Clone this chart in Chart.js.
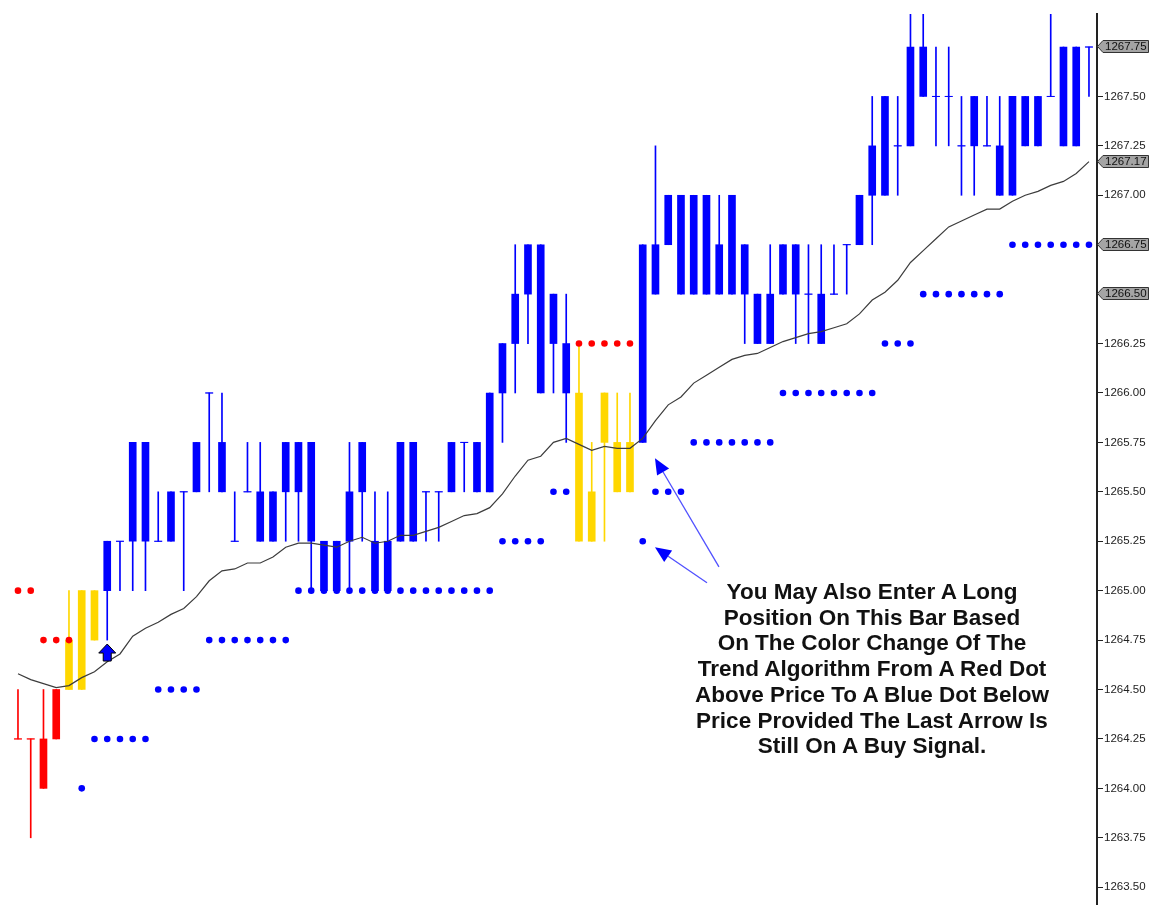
<!DOCTYPE html>
<html>
<head>
<meta charset="utf-8">
<script src="https://cdn.jsdelivr.net/npm/chart.js@4.4.0/dist/chart.umd.min.js"></script>
<style>
  html, body { margin: 0; padding: 0; background: #fff; }
  #wrap { position: relative; width: 1149px; height: 905px; }
  #note {
    position: absolute; left: 647px; top: 579px; width: 450px;
    text-align: center; color: #111;
    font: bold 22.5px "Liberation Sans", Arial, sans-serif; line-height: 25.7px;
  }
</style>
</head>
<body>
<div id="wrap">
  <canvas id="chart"></canvas>
  <div id="note">You May Also Enter A Long<br>Position On This Bar Based<br>On The Color Change Of The<br>Trend Algorithm From A Red Dot<br>Above Price To A Blue Dot Below<br>Price Provided The Last Arrow Is<br>Still On A Buy Signal.</div>
</div>
<script>
// price bars, one entry per bar
const opens = [
  1264.25, 1264.25, 1264.25, 1264.50, 1264.50, 1264.50, 1264.75, 1265.00, 1265.25, 1265.25,
  1265.25, 1265.25, 1265.25, 1265.50, 1265.50, 1266.00, 1265.50, 1265.25, 1265.50, 1265.25,
  1265.25, 1265.50, 1265.50, 1265.75, 1265.25, 1265.25, 1265.25, 1265.50, 1265.25, 1265.00,
  1265.25, 1265.25, 1265.50, 1265.50, 1265.50, 1265.75, 1265.50, 1265.50, 1266.00, 1266.25,
  1266.50, 1266.75, 1266.50, 1266.25, 1266.00, 1265.25, 1265.75, 1265.75, 1265.50, 1265.75,
  1266.50, 1266.75, 1267.00, 1266.50, 1267.00, 1266.50, 1266.50, 1266.75, 1266.50, 1266.25,
  1266.50, 1266.75, 1266.50, 1266.50, 1266.50, 1266.75, 1266.75, 1267.00, 1267.00, 1267.25,
  1267.25, 1267.75, 1267.50, 1267.50, 1267.25, 1267.50, 1267.25, 1267.25, 1267.00, 1267.50,
  1267.25, 1267.50, 1267.25, 1267.75, 1267.75
];
const highs = [
  1264.50, 1264.25, 1264.50, 1264.50, 1265.00, 1265.00, 1265.00, 1265.25, 1265.25, 1265.75,
  1265.75, 1265.50, 1265.50, 1265.50, 1265.75, 1266.00, 1266.00, 1265.50, 1265.75, 1265.75,
  1265.50, 1265.75, 1265.75, 1265.75, 1265.25, 1265.25, 1265.75, 1265.75, 1265.50, 1265.50,
  1265.75, 1265.75, 1265.50, 1265.50, 1265.75, 1265.75, 1265.75, 1266.00, 1266.25, 1266.75,
  1266.75, 1266.75, 1266.50, 1266.50, 1266.25, 1265.75, 1266.00, 1266.00, 1266.00, 1266.75,
  1267.25, 1267.00, 1267.00, 1267.00, 1267.00, 1267.00, 1267.00, 1266.75, 1266.50, 1266.75,
  1266.75, 1266.75, 1266.75, 1266.75, 1266.75, 1266.75, 1267.00, 1267.50, 1267.50, 1267.50,
  1268.00, 1268.00, 1267.75, 1267.75, 1267.50, 1267.50, 1267.50, 1267.50, 1267.50, 1267.50,
  1267.50, 1268.00, 1267.75, 1267.75, 1267.75
];
const lows = [
  1264.25, 1263.75, 1264.00, 1264.25, 1264.50, 1264.50, 1264.75, 1264.75, 1265.00, 1265.00,
  1265.00, 1265.25, 1265.25, 1265.00, 1265.50, 1265.50, 1265.50, 1265.25, 1265.50, 1265.25,
  1265.25, 1265.25, 1265.25, 1265.00, 1265.00, 1265.00, 1265.00, 1265.25, 1265.00, 1265.00,
  1265.25, 1265.25, 1265.25, 1265.25, 1265.50, 1265.50, 1265.50, 1265.50, 1265.75, 1266.00,
  1266.25, 1266.00, 1266.00, 1265.75, 1265.25, 1265.25, 1265.25, 1265.50, 1265.50, 1265.75,
  1266.50, 1266.75, 1266.50, 1266.50, 1266.50, 1266.50, 1266.50, 1266.25, 1266.25, 1266.25,
  1266.50, 1266.25, 1266.25, 1266.25, 1266.50, 1266.50, 1266.75, 1266.75, 1267.00, 1267.00,
  1267.25, 1267.50, 1267.25, 1267.25, 1267.00, 1267.00, 1267.25, 1267.00, 1267.00, 1267.25,
  1267.25, 1267.50, 1267.25, 1267.25, 1267.50
];
const closes = [
  1264.25, 1264.25, 1264.00, 1264.25, 1264.75, 1265.00, 1265.00, 1265.25, 1265.25, 1265.75,
  1265.75, 1265.25, 1265.50, 1265.50, 1265.75, 1266.00, 1265.75, 1265.25, 1265.50, 1265.50,
  1265.50, 1265.75, 1265.75, 1265.25, 1265.00, 1265.00, 1265.50, 1265.75, 1265.00, 1265.25,
  1265.75, 1265.75, 1265.50, 1265.50, 1265.75, 1265.75, 1265.75, 1266.00, 1266.25, 1266.50,
  1266.75, 1266.00, 1266.25, 1266.00, 1265.25, 1265.50, 1266.00, 1265.50, 1265.75, 1266.75,
  1266.75, 1267.00, 1266.50, 1267.00, 1266.50, 1266.75, 1267.00, 1266.50, 1266.25, 1266.50,
  1266.75, 1266.50, 1266.50, 1266.25, 1266.50, 1266.75, 1267.00, 1267.25, 1267.50, 1267.25,
  1267.75, 1267.50, 1267.50, 1267.50, 1267.25, 1267.25, 1267.25, 1267.00, 1267.50, 1267.25,
  1267.50, 1267.50, 1267.75, 1267.25, 1267.75
];
// paint bar colour: r = red, y = yellow, b = blue
const barPaint = 'rrrryyy' + 'b'.repeat(37) + 'yyyyy' + 'b'.repeat(36);

// the grey average line
const avgLine = [
  1264.58, 1264.55, 1264.53, 1264.51, 1264.52, 1264.56, 1264.59, 1264.64, 1264.68, 1264.77,
  1264.81, 1264.84, 1264.88, 1264.91, 1264.97, 1265.05, 1265.10, 1265.11, 1265.14, 1265.14,
  1265.17, 1265.22, 1265.24, 1265.24, 1265.23, 1265.22, 1265.25, 1265.27, 1265.24, 1265.25,
  1265.28, 1265.28, 1265.30, 1265.32, 1265.35, 1265.38, 1265.39, 1265.42, 1265.49, 1265.58,
  1265.66, 1265.68, 1265.75, 1265.77, 1265.74, 1265.71, 1265.73, 1265.72, 1265.72, 1265.77,
  1265.86, 1265.94, 1265.98, 1266.05, 1266.09, 1266.13, 1266.17, 1266.19, 1266.20, 1266.23,
  1266.26, 1266.28, 1266.30, 1266.31, 1266.33, 1266.35, 1266.40, 1266.47, 1266.51, 1266.57,
  1266.66, 1266.72, 1266.78, 1266.84, 1266.87, 1266.90, 1266.93, 1266.93, 1266.97, 1267.00,
  1267.02, 1267.05, 1267.07, 1267.11, 1267.17
];

// trend algorithm dots and their side (r above price, b below)
const trendDots = [
  1265.00, 1265.00, 1264.75, 1264.75, 1264.75, 1264.00, 1264.25, 1264.25, 1264.25, 1264.25,
  1264.25, 1264.50, 1264.50, 1264.50, 1264.50, 1264.75, 1264.75, 1264.75, 1264.75, 1264.75,
  1264.75, 1264.75, 1265.00, 1265.00, 1265.00, 1265.00, 1265.00, 1265.00, 1265.00, 1265.00,
  1265.00, 1265.00, 1265.00, 1265.00, 1265.00, 1265.00, 1265.00, 1265.00, 1265.25, 1265.25,
  1265.25, 1265.25, 1265.50, 1265.50, 1266.25, 1266.25, 1266.25, 1266.25, 1266.25, 1265.25,
  1265.50, 1265.50, 1265.50, 1265.75, 1265.75, 1265.75, 1265.75, 1265.75, 1265.75, 1265.75,
  1266.00, 1266.00, 1266.00, 1266.00, 1266.00, 1266.00, 1266.00, 1266.00, 1266.25, 1266.25,
  1266.25, 1266.50, 1266.50, 1266.50, 1266.50, 1266.50, 1266.50, 1266.50, 1266.75, 1266.75,
  1266.75, 1266.75, 1266.75, 1266.75, 1266.75
];
const trendSide = 'rrrrr' + 'b'.repeat(39) + 'rrrrr' + 'b'.repeat(36);

// price flags on the axis
const flagValues = [1267.75, 1267.17, 1266.75, 1266.50];

// buy arrow and the two callout arrows
const buyArrows = [{ bar: 7, price: 1264.73 }];
const callouts = [
  { fromBar: 54.98, fromPrice: 1265.12, toBar: 49.96, toPrice: 1265.67 },
  { fromBar: 54.04, fromPrice: 1265.04, toBar: 49.96, toPrice: 1265.22 }
];

const paint = { r: '#ff0000', y: '#ffd700', b: '#0000ff' };
const bars = opens.map((o, i) => i);

const wickData = bars.map(i => ({ x: i, y: [lows[i], highs[i]] }));
const bodyData = bars.map(i => ({ x: i, y: [Math.min(opens[i], closes[i]), Math.max(opens[i], closes[i])] }));
const dojiData = bars.map(i => opens[i] === closes[i] ? { x: i, y: closes[i] } : { x: i, y: null });
const avgData = bars.map(i => ({ x: i, y: avgLine[i] }));
const dotData = bars.map(i => ({ x: i, y: trendDots[i] }));
const barColors = bars.map(i => paint[barPaint[i]]);
const dotColors = bars.map(i => paint[trendSide[i]]);

const overlay = {
    id: 'overlay',
    afterDatasetsDraw(chart) {
        const { ctx, scales: { x, y } } = chart;
        ctx.save();
        buyArrows.forEach(a => {
            const cx = x.getPixelForValue(a.bar);
            const ty = y.getPixelForValue(a.price);
            ctx.beginPath();
            ctx.moveTo(cx, ty);
            ctx.lineTo(cx + 8.5, ty + 9);
            ctx.lineTo(cx + 4, ty + 9);
            ctx.lineTo(cx + 4, ty + 17);
            ctx.lineTo(cx - 4, ty + 17);
            ctx.lineTo(cx - 4, ty + 9);
            ctx.lineTo(cx - 8.5, ty + 9);
            ctx.closePath();
            ctx.fillStyle = '#0000ff';
            ctx.fill();
            ctx.strokeStyle = '#000';
            ctx.lineWidth = 1;
            ctx.stroke();
        });
        callouts.forEach(c => {
            const x1 = x.getPixelForValue(c.fromBar), y1 = y.getPixelForValue(c.fromPrice);
            const x2 = x.getPixelForValue(c.toBar), y2 = y.getPixelForValue(c.toPrice);
            const ang = Math.atan2(y2 - y1, x2 - x1);
            const len = 16, half = 7;
            const bx = x2 - Math.cos(ang) * len, by = y2 - Math.sin(ang) * len;
            ctx.beginPath();
            ctx.moveTo(x1, y1);
            ctx.lineTo(bx, by);
            ctx.strokeStyle = '#5050ff';
            ctx.lineWidth = 1.3;
            ctx.stroke();
            ctx.beginPath();
            ctx.moveTo(x2, y2);
            ctx.lineTo(bx + Math.sin(ang) * half, by - Math.cos(ang) * half);
            ctx.lineTo(bx - Math.sin(ang) * half, by + Math.cos(ang) * half);
            ctx.closePath();
            ctx.fillStyle = '#0000ff';
            ctx.fill();
        });
        ctx.restore();
    },
    afterDraw(chart) {
        const { ctx, scales: { y } } = chart;
        const left = y.left;
        ctx.save();
        ctx.font = '11.5px "Liberation Sans", Arial, sans-serif';
        ctx.textBaseline = 'middle';
        flagValues.forEach(v => {
            const py = Math.round(y.getPixelForValue(v)) - 0.5;
            ctx.beginPath();
            ctx.moveTo(left + 0.5, py);
            ctx.lineTo(left + 6, py - 6);
            ctx.lineTo(1148.5, py - 6);
            ctx.lineTo(1148.5, py + 6);
            ctx.lineTo(left + 6, py + 6);
            ctx.closePath();
            ctx.fillStyle = '#a4a4a4';
            ctx.fill();
            ctx.strokeStyle = '#333';
            ctx.lineWidth = 1;
            ctx.stroke();
            ctx.fillStyle = '#111';
            ctx.fillText(v.toFixed(2), left + 8, py + 0.5);
        });
        ctx.restore();
    }
};

new Chart(document.getElementById('chart'), {
    data: {
        datasets: [
            {
                type: 'line', data: dotData, order: 0, showLine: false,
                pointRadius: 3.3, pointBorderWidth: 0, pointHoverRadius: 3.3,
                pointBackgroundColor: dotColors
            },
            {
                type: 'line', data: avgData, order: 1,
                borderColor: '#3c3c3c', borderWidth: 1.2, pointRadius: 0, tension: 0
            },
            {
                type: 'line', data: dojiData, order: 2, showLine: false,
                pointStyle: 'line', pointRadius: 4, pointBorderWidth: 1,
                pointBorderColor: barColors
            },
            {
                type: 'bar', data: bodyData, order: 3, grouped: false,
                barThickness: 7, backgroundColor: barColors, borderWidth: 0
            },
            {
                type: 'bar', data: wickData, order: 4, grouped: false,
                barThickness: 1, backgroundColor: barColors, borderWidth: 0
            }
        ]
    },
    options: {
        responsive: true,
        maintainAspectRatio: false,
        animation: false,
        layout: { autoPadding: false, padding: { top: 14, left: 0, right: 0, bottom: 0 } },
        plugins: { legend: { display: false }, tooltip: { enabled: false } },
        scales: {
            x: { type: 'linear', min: -1.41, max: 84.63, offset: false, grid: { offset: false }, display: false },
            y: {
                position: 'right',
                min: 1263.41,
                max: 1267.917,
                afterFit(scale) {
                    scale.width = 52;
                    scale.paddingTop = 0;
                    scale.paddingBottom = 0;
                },
                border: { display: true, color: '#222', width: 2 },
                grid: { drawOnChartArea: false, drawTicks: true, tickLength: 6, color: '#222' },
                ticks: {
                    stepSize: 0.25,
                    includeBounds: false,
                    padding: 1,
                    color: '#222',
                    font: { family: '"Liberation Sans", Arial, sans-serif', size: 11.5 },
                    callback: v => flagValues.some(f => Math.abs(f - v) < 1e-6) ? '' : v.toFixed(2)
                }
            }
        }
    },
    plugins: [overlay]
});
</script>
</body>
</html>
